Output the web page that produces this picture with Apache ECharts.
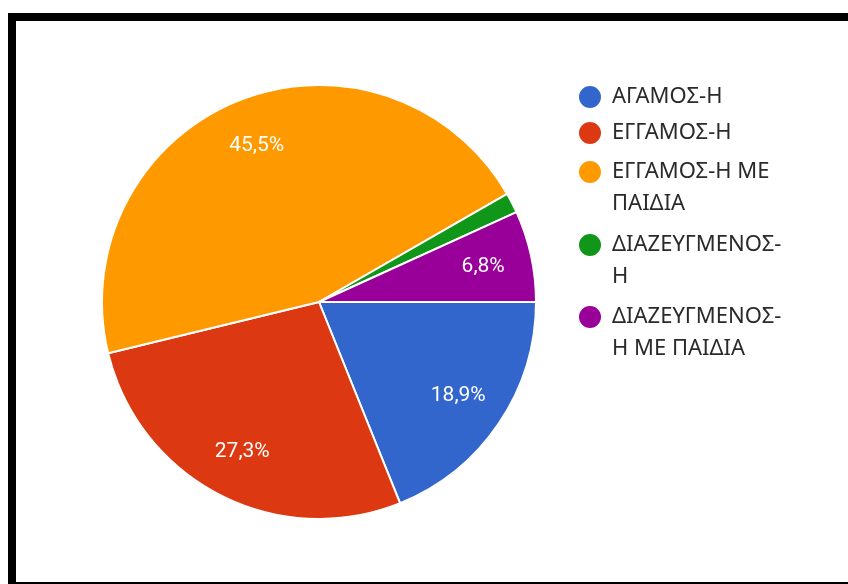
<!DOCTYPE html>
<html>
<head>
<meta charset="utf-8">
<script src="https://cdn.jsdelivr.net/npm/echarts@6/dist/echarts.min.js"></script>
<style>
  html, body { margin: 0; padding: 0; background: #fff; }
  #chart { width: 848px; height: 584px; }
</style>
</head>
<body>
<div id="chart"></div>
<script>
// Marital status breakdown (percent of respondents)
const categories = ['ΑΓΑΜΟΣ-Η', 'ΕΓΓΑΜΟΣ-Η', 'ΕΓΓΑΜΟΣ-Η ΜΕ ΠΑΙΔΙΑ', 'ΔΙΑΖΕΥΓΜΕΝΟΣ-Η', 'ΔΙΑΖΕΥΓΜΕΝΟΣ-Η ΜΕ ΠΑΙΔΙΑ'];
const legendLines = [['ΑΓΑΜΟΣ-Η'], ['ΕΓΓΑΜΟΣ-Η'], ['ΕΓΓΑΜΟΣ-Η ΜΕ', 'ΠΑΙΔΙΑ'], ['ΔΙΑΖΕΥΓΜΕΝΟΣ-', 'Η'], ['ΔΙΑΖΕΥΓΜΕΝΟΣ-', 'Η ΜΕ ΠΑΙΔΙΑ']];
const values = [18.9, 27.3, 45.5, 1.5, 6.8];
const colors = ['#3366cc', '#dc3912', '#ff9900', '#109618', '#990099'];
const legendTops = [81, 117, 124, 197, 269];

const FONT = 'Roboto, "Noto Sans", sans-serif';
const LEGEND_FONT = '"Noto Sans", Roboto, sans-serif';
const LINE = 32;

const sliceData = categories.map((name, i) => ({ name: name, value: values[i], itemStyle: { color: colors[i] } }));

function pct(v) {
  return v.toFixed(1).replace('.', ',') + '%';
}

// The legend centres a text block on its marker; a blank leading line keeps
// the marker level with the first line of a wrapped entry.
function legendText(lines) {
  return lines.length > 1 ? ' \n' + lines.join('\n') : lines[0];
}

const legends = categories.map((name, i) => ({
  orient: 'vertical',
  left: 577,
  top: legendTops[i],
  padding: 0,
  itemWidth: 24,
  itemHeight: 24,
  icon: 'circle',
  selectedMode: false,
  formatter: () => legendText(legendLines[i]),
  textStyle: {
    fontFamily: LEGEND_FONT,
    fontSize: 22,
    color: '#2a2a2a',
    lineHeight: LINE,
    padding: [0, 0, 0, 5]
  },
  data: [name]
}));

const option = {
  animation: false,
  backgroundColor: '#fff',
  graphic: [{
    type: 'rect',
    shape: { x: 12, y: 17, width: 900, height: 569 },
    style: { fill: 'none', stroke: '#000', lineWidth: 8 },
    silent: true,
    z: 100
  }],
  legend: legends,
  series: [
    {
      type: 'pie',
      center: [319, 302],
      radius: [0, 217],
      startAngle: 0,
      clockwise: true,
      avoidLabelOverlap: false,
      label: { show: false },
      labelLine: { show: false },
      itemStyle: { borderColor: '#fff', borderWidth: 2 },
      emphasis: { disabled: true },
      data: sliceData
    },
    {
      // transparent twin whose inner labels sit at ~3/4 of the visible radius
      type: 'pie',
      center: [319, 302],
      radius: [0, 330],
      startAngle: 0,
      clockwise: true,
      silent: true,
      avoidLabelOverlap: false,
      itemStyle: { color: 'rgba(0,0,0,0)', borderWidth: 0 },
      emphasis: { disabled: true },
      labelLine: { show: false },
      label: {
        show: true,
        position: 'inside',
        fontFamily: FONT,
        fontSize: 21,
        color: '#fff',
        formatter: (p) => (p.value >= 5 ? pct(p.value) : '')
      },
      data: categories.map((name, i) => ({ name: name, value: values[i] })),
      z: 3
    }
  ]
};

const chart = echarts.init(document.getElementById('chart'), null, { renderer: 'canvas' });
chart.setOption(option);
</script>
</body>
</html>
